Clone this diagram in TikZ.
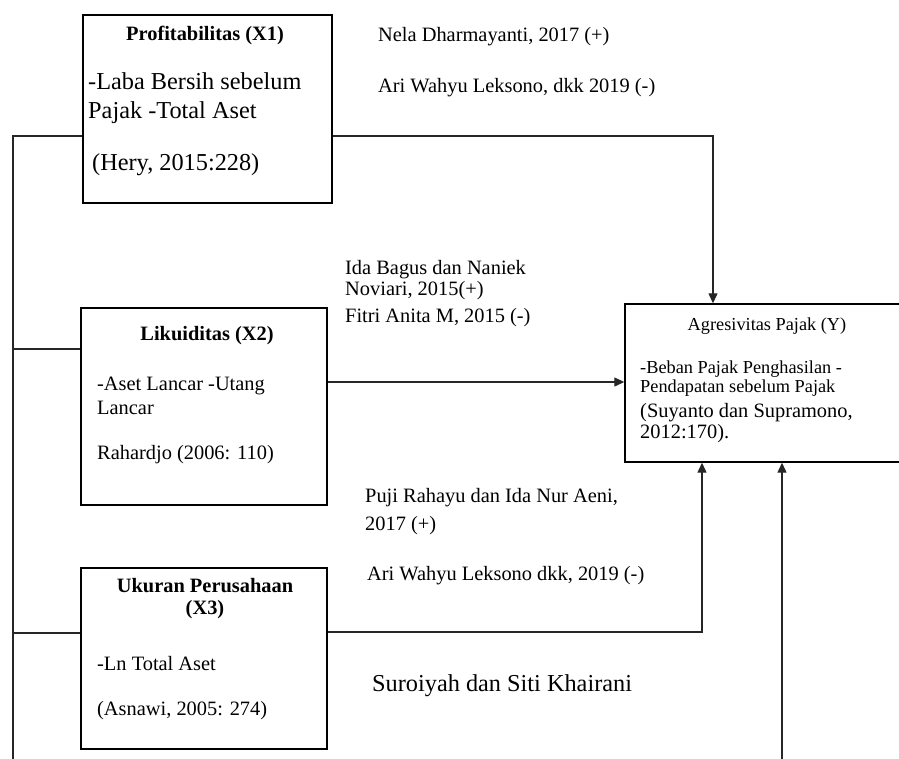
\documentclass[tikz,border=0pt]{standalone}
\usepackage{fontspec}
\setmainfont{Liberation Serif}
\usetikzlibrary{arrows.meta}
\begin{document}
\begin{tikzpicture}[x=1pt,y=-1pt,
  box/.style={draw=black, line width=1.4pt, rectangle, inner sep=0pt},
  conn/.style={draw=black!85, line width=1.2pt},
  arr/.style={conn, -{Triangle[length=10pt,width=9pt]}},
  sm/.style={font=\fontsize{20.4}{24}\selectfont, inner sep=0pt, anchor=base west},
  smb/.style={font=\fontsize{20.4}{24}\selectfont\bfseries, inner sep=0pt, anchor=base},
  lg/.style={font=\fontsize{24.3}{29}\selectfont, inner sep=0pt, anchor=base west},
  tn/.style={font=\fontsize{18.3}{21}\selectfont, inner sep=0pt, anchor=base west},
  tnc/.style={font=\fontsize{18.3}{21}\selectfont, inner sep=0pt, anchor=base}]
\useasboundingbox (0,0) rectangle (899,758);
\clip (0,0) rectangle (899,758);

% boxes
\node[box, minimum width=249pt, minimum height=188pt] (X1) at (207.5,109) {};
\node[box, minimum width=246pt, minimum height=197pt] (X2) at (204,406.5) {};
\node[box, minimum width=246pt, minimum height=181pt] (X3) at (204,658.5) {};
\node[box, minimum width=285pt, minimum height=158pt] (Y) at (767.5,383) {};

% box texts
\node[smb] (t11) at (205,40) {Profitabilitas (X1)};
\node[lg] (t12) at (88,89.5) {-Laba Bersih sebelum};
\node[lg] (t13) at (88,118.5) {Pajak -Total Aset};
\node[lg] (t14) at (92,170) {(Hery, 2015:228)};

\node[smb] (t21) at (207,340) {Likuiditas (X2)};
\node[sm] (t22) at (97,390) {-Aset Lancar -Utang};
\node[sm] (t23) at (97,414) {Lancar};
\node[sm] (t24) at (97,459) {Rahardjo (2006: 110)};

\node[smb] (t31) at (205,592) {Ukuran Perusahaan};
\node[smb] (t32) at (205,614) {(X3)};
\node[sm] (t33) at (97,670) {-Ln Total Aset};
\node[sm] (t34) at (97,715) {(Asnawi, 2005: 274)};

\node[tnc] (ty1) at (767,330) {Agresivitas Pajak (Y)};
\node[tn] (ty2) at (640,373) {-Beban Pajak Penghasilan -};
\node[tn] (ty3) at (640,392) {Pendapatan sebelum Pajak};
\node[sm] (ty4) at (640,417) {(Suyanto dan Supramono,};
\node[sm] (ty5) at (640,438) {2012:170).};

% citations
\node[sm] (c1) at (378,41) {Nela Dharmayanti, 2017 (+)};
\node[sm] (c2) at (378,92) {Ari Wahyu Leksono, dkk 2019 (-)};
\node[sm] (c3) at (345,274) {Ida Bagus dan Naniek};
\node[sm] (c4) at (345,295) {Noviari, 2015(+)};
\node[sm] (c5) at (345,322) {Fitri Anita M, 2015 (-)};
\node[sm] (c6) at (365,502) {Puji Rahayu dan Ida Nur Aeni,};
\node[sm] (c7) at (365,530) {2017 (+)};
\node[sm] (c8) at (367,580) {Ari Wahyu Leksono dkk, 2019 (-)};
\node[lg] (c9) at (372,691) {Suroiyah dan Siti Khairani};

% connectors
\coordinate (L0) at (13,136);
\coordinate (Lend) at (13,762);
\coordinate (L2) at (13,349);
\coordinate (L3) at (13,633);
\draw[conn] (Lend) -- (L0) -- (L0 -| X1.west);
\draw[conn] (L2) -- (L2 -| X2.west);
\draw[conn] (L3) -- (L3 -| X3.west);

\coordinate (R1) at (713,136);
\coordinate (R2) at (625,382);
\coordinate (R3) at (702,632);
\coordinate (R4) at (782,762);
\draw[arr] (R1 -| X1.east) -- (R1) -- (R1 |- Y.north);
\draw[arr] (R2 -| X2.east) -- (R2 -| Y.west);
\draw[arr] (R3 -| X3.east) -- (R3) -- (R3 |- Y.south);
\draw[arr] (R4) -- (R4 |- Y.south);
\end{tikzpicture}
\end{document}
